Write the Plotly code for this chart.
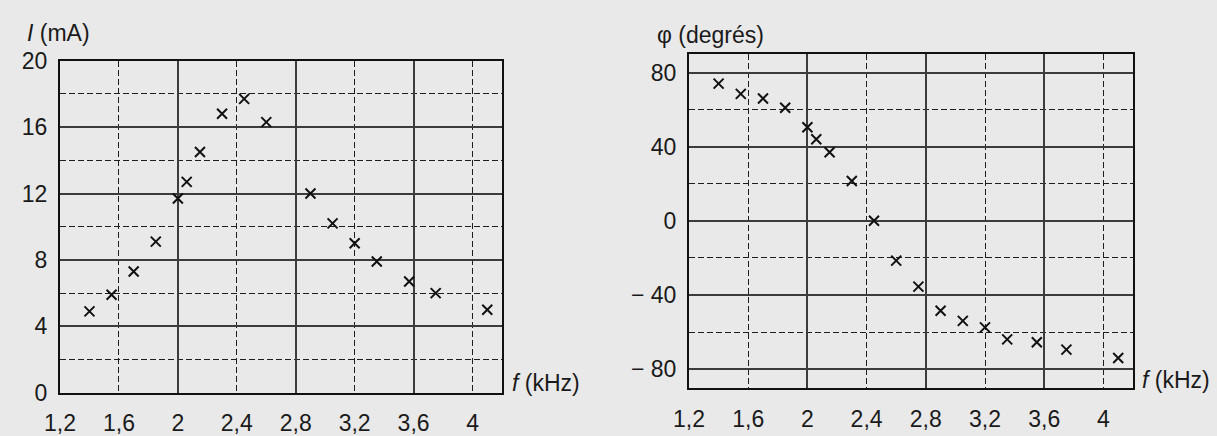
import plotly.graph_objects as go

# ---- data ----
f_I = [1.40, 1.55, 1.70, 1.85, 2.00, 2.06, 2.15, 2.30, 2.45, 2.60, 2.90, 3.05, 3.20, 3.35, 3.57, 3.75, 4.10]
I_mA = [4.9, 5.9, 7.3, 9.1, 11.7, 12.7, 14.5, 16.8, 17.7, 16.3, 12.0, 10.2, 9.0, 7.9, 6.7, 6.0, 5.0]

f_phi = [1.40, 1.55, 1.70, 1.85, 2.00, 2.06, 2.15, 2.30, 2.45, 2.60, 2.75, 2.90, 3.05, 3.20, 3.35, 3.55, 3.75, 4.10]
phi_deg = [74, 68.5, 66, 61, 50.5, 44, 37, 21.5, 0, -21.5, -35.5, -48.5, -54, -57.5, -64, -65.5, -69.5, -74]

x_tickvals = [1.2, 1.6, 2.0, 2.4, 2.8, 3.2, 3.6, 4.0]
x_ticktext = ["1,2", "1,6", "2", "2,4", "2,8", "3,2", "3,6", "4"]
I_tickvals = [0, 4, 8, 12, 16, 20]
I_ticktext = ["0", "4", "8", "12", "16", "20"]
phi_tickvals = [-80, -40, 0, 40, 80]
phi_ticktext = ["\u2212 80", "\u2212 40", "0", "40", "80"]

# ---- style ----
FONT = "Liberation Sans"
FS = 23
TXT = "#1a1a1a"
BG = "#e9e9e9"
SOLID = "#3c3c3c"
DASH = "#1e1e1e"
DASHSTYLE = "6px,3px"

W, H = 1217, 436
L_dom_x = [60 / W, 502 / W]
L_dom_y = [1 - 392.7 / H, 1 - 60.7 / H]
R_dom_x = [689 / W, 1133 / W]
R_dom_y = [1 - 387.6 / H, 1 - 54 / H]

fig = go.Figure()

marker = dict(symbol="x-thin", size=10, line=dict(width=2, color="#111111"), color="#111111")
fig.add_trace(go.Scatter(x=f_I, y=I_mA, mode="markers", marker=marker,
                         xaxis="x", yaxis="y", showlegend=False, hoverinfo="x+y"))
fig.add_trace(go.Scatter(x=f_phi, y=phi_deg, mode="markers", marker=marker,
                         xaxis="x2", yaxis="y2", showlegend=False, hoverinfo="x+y"))
# invisible companions so the overlaid label axes are drawn
fig.add_trace(go.Scatter(x=f_I, y=I_mA, mode="markers", marker=dict(opacity=0),
                         xaxis="x3", yaxis="y", showlegend=False, hoverinfo="skip"))
fig.add_trace(go.Scatter(x=f_phi, y=phi_deg, mode="markers", marker=dict(opacity=0),
                         xaxis="x4", yaxis="y2", showlegend=False, hoverinfo="skip"))

def grid_x(domain, anchor):
    return dict(
        domain=domain, anchor=anchor, range=[1.2, 4.2],
        tickmode="linear", tick0=1.2, dtick=0.8,
        showticklabels=False, ticks="",
        showgrid=True, gridcolor=SOLID, gridwidth=1.6,
        minor=dict(tickmode="linear", tick0=1.2, dtick=0.4, showgrid=True,
                   gridcolor=DASH, gridwidth=1.4, griddash=DASHSTYLE, ticks=""),
        showline=True, mirror=True, linecolor="#111111", linewidth=2.2,
        zeroline=False, fixedrange=True, automargin=False,
    )

def label_x(over, anchor, standoff):
    return dict(
        overlaying=over, anchor=anchor, side="bottom", range=[1.2, 4.2],
        tickmode="array", tickvals=x_tickvals, ticktext=x_ticktext,
        ticks="outside", ticklen=6, tickcolor="rgba(0,0,0,0)",
        ticklabelstandoff=standoff,
        tickfont=dict(family=FONT, size=FS, color=TXT),
        showgrid=False, showline=False, zeroline=False, fixedrange=True,
        automargin=False,
    )

def grid_y(domain, anchor, rng, vals, text, minor_dtick):
    return dict(
        domain=domain, anchor=anchor, range=rng,
        tickmode="array", tickvals=vals, ticktext=text,
        ticks="outside", ticklen=6, tickcolor="rgba(0,0,0,0)",
        tickfont=dict(family=FONT, size=FS, color=TXT),
        showgrid=True, gridcolor=SOLID, gridwidth=1.6,
        minor=dict(tickmode="linear", tick0=0, dtick=minor_dtick, showgrid=True,
                   gridcolor=DASH, gridwidth=1.4, griddash=DASHSTYLE, ticks=""),
        showline=True, mirror=True, linecolor="#111111", linewidth=2.2,
        zeroline=False, fixedrange=True, automargin=False,
    )

fig.update_layout(
    width=W, height=H, autosize=False,
    margin=dict(l=0, r=0, t=0, b=0, pad=0, autoexpand=False),
    paper_bgcolor=BG, plot_bgcolor=BG,
    showlegend=False,
    font=dict(family=FONT, size=FS, color=TXT),
    xaxis=grid_x(L_dom_x, "y"),
    xaxis2=grid_x(R_dom_x, "y2"),
    xaxis3=label_x("x", "y", 4),
    xaxis4=label_x("x2", "y2", 5),
    yaxis=grid_y(L_dom_y, "x", [0, 20], I_tickvals, I_ticktext, 2),
    yaxis2=grid_y(R_dom_y, "x2", [-90, 90], phi_tickvals, phi_ticktext, 20),
)

ann_font = dict(family=FONT, size=FS, color=TXT)
fig.add_annotation(text="<i>I</i> (mA)", xref="paper", yref="paper",
                   x=25 / W, y=1 - 33 / H, xanchor="left", yanchor="middle",
                   showarrow=False, font=ann_font)
fig.add_annotation(text="\u03c6 (degrés)", xref="paper", yref="paper",
                   x=655 / W, y=1 - 35 / H, xanchor="left", yanchor="middle",
                   showarrow=False, font=ann_font)
fig.add_annotation(text="<i>f</i> (kHz)", xref="paper", yref="paper",
                   x=510 / W, y=1 - 383 / H, xanchor="left", yanchor="middle",
                   showarrow=False, font=ann_font)
fig.add_annotation(text="<i>f</i> (kHz)", xref="paper", yref="paper",
                   x=1140 / W, y=1 - 380 / H, xanchor="left", yanchor="middle",
                   showarrow=False, font=ann_font)

fig.write_html("out.html", config={"displayModeBar": False, "responsive": False})

# remove the browser's default page margin so the figure fills the window exactly
with open("out.html", "r", encoding="utf-8") as fh:
    html = fh.read()
html = html.replace("<head>", "<head><style>html,body{margin:0;padding:0;overflow:hidden;background:%s}</style>" % BG, 1)
with open("out.html", "w", encoding="utf-8") as fh:
    fh.write(html)
